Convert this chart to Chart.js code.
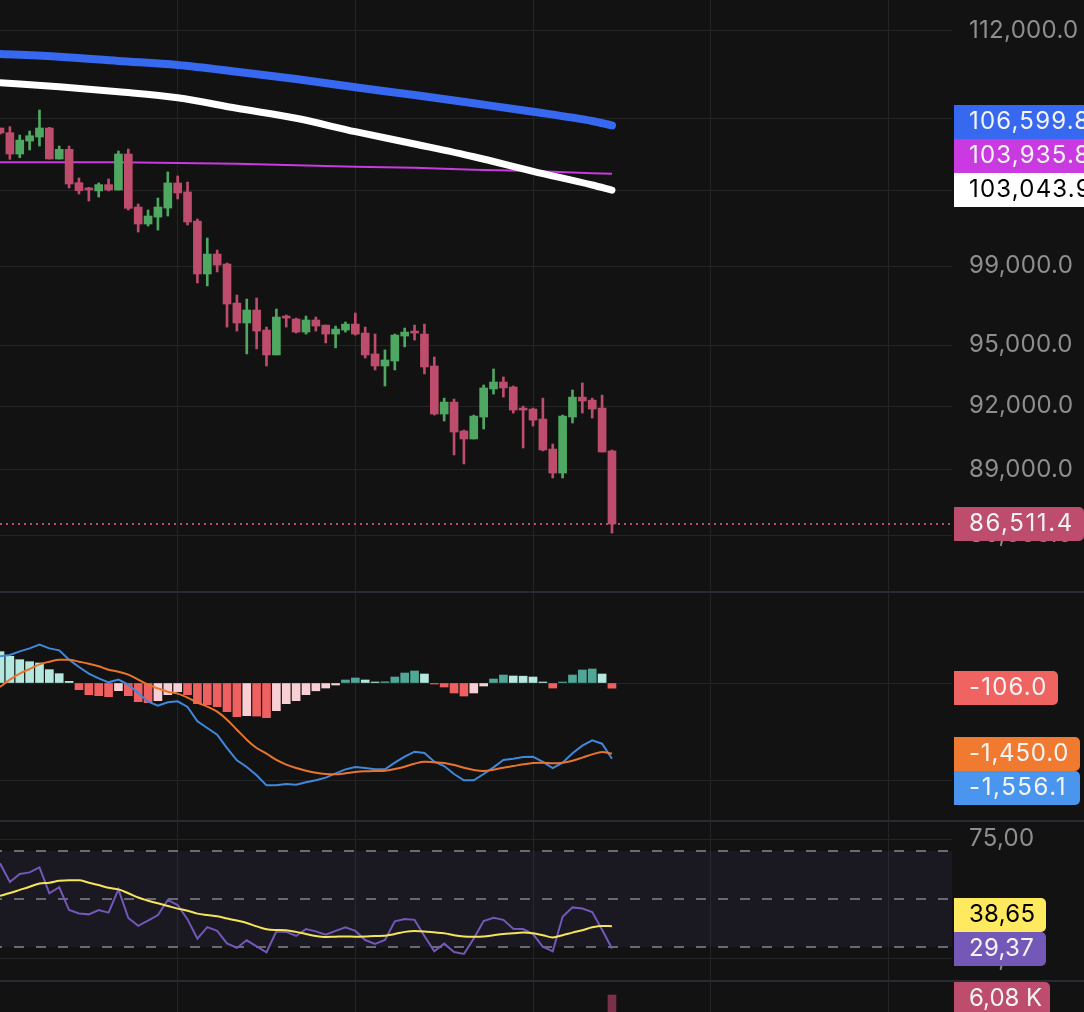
<!DOCTYPE html>
<html>
<head>
<meta charset="utf-8">
<title>Price chart</title>
<script src="https://cdn.jsdelivr.net/npm/chart.js@4"></script>
<style>
  html, body { margin: 0; padding: 0; background: #121212; overflow: hidden; }
  #wrap { position: relative; width: 1084px; height: 1012px; overflow: hidden; }
  canvas { position: absolute; left: 0; display: block; }
  .sep { position: absolute; left: 0; width: 1084px; height: 2px; background: #2a2a35; z-index: 2; }
</style>
</head>
<body>
<div id="wrap">
  <canvas id="priceChart" width="1084" height="592" style="top:0"></canvas>
  <canvas id="macdChart" width="1084" height="228" style="top:592px"></canvas>
  <canvas id="rsiChart" width="1084" height="161" style="top:820px"></canvas>
  <canvas id="volumeChart" width="1084" height="31" style="top:981px"></canvas>
  <div class="sep" style="top:591px"></div>
  <div class="sep" style="top:820px"></div>
  <div class="sep" style="top:980px"></div>
</div>
<script>
// Candles
const candleHighs = [106450,106525,106060,106285,107460,106490,105450,105450,103700,103195,103430,103645,105175,105285,102295,101975,102620,104030,103810,103480,101495,100490,99860,99185,97535,97330,97380,95910,96820,96520,96365,96465,96415,96010,95960,96165,96620,95910,95560,94770,95560,95860,96010,96060,94420,92405,92360,90875,91590,93045,93830,93435,92995,92020,91925,92405,90210,91590,92800,93145,92405,92550,89930];
const candleOpens = [106450,106190,105010,105725,105950,106450,104735,105270,103445,103160,103000,103340,103050,105010,102135,101230,101600,102080,103430,102945,101385,98615,99650,99130,97125,96115,96770,95760,94520,96465,96315,95660,96265,96010,95560,95760,96060,95610,94570,93975,94220,95460,95710,95560,93975,91640,92215,90830,90450,91495,92850,93190,92945,91925,91880,91400,89975,88850,91495,92455,92310,91925,89885];
const candleCloses = [106170,105010,105780,106020,106450,104735,105270,103375,103010,103050,103340,103050,105010,102065,101230,101655,102135,103430,102890,101335,98615,99650,99080,97075,96115,96770,95710,94520,96415,96365,95660,96265,95960,95560,95810,96060,95560,94520,93975,94270,95510,95660,95610,93925,91640,92215,90780,90450,91540,92900,93190,92900,91830,91830,91350,89930,88850,91540,92455,92265,91880,89835,86511.4];
const candleLows = [106110,104720,104810,105230,105450,104735,104735,103160,102835,102455,102670,103000,103050,101975,100805,101125,100910,101655,102565,101175,98150,98000,98720,95910,95710,94570,94820,93975,94520,95910,95610,95560,95710,95115,94870,95660,95510,94370,93780,92995,93780,94920,95260,93585,91590,91305,89695,89275,90450,90925,92600,92455,91685,90025,91065,89885,88620,88620,91210,91685,91445,89835,86100];

// Moving averages, read at these candle positions
const averageIndexes = [0,6,12,18,24,30,36,42,48,54,60,62];
const blueAverage = [110660,110500,110254,110023,109637,109219,108745,108307,107838,107364,106841,106599.8];
const whiteAverage = [109007,108779,108495,108154,107556,106994,106245,105563,104862,104065,103321,103043.9];
const magentaAverage = [104555,104555,104555,104517,104479,104392,104316,104260,104151,104080,103955,103935.8];

// MACD
const macdHistogram = [644,548,479,438,411,274,192,34,-137,-240,-260,-281,-158,-260,-383,-404,-363,-240,-178,-240,-425,-445,-486,-589,-692,-671,-680,-712,-568,-425,-363,-240,-160,-103,-41,62,103,62,20,25,123,205,247,185,-21,-82,-205,-267,-205,-62,82,164,144,140,123,21,-103,21,164,267,288,185,-106];
const macdLine = [548,575,651,712,788,712,671,480,329,192,96,14,69,-34,-206,-384,-466,-397,-377,-493,-788,-925,-1062,-1336,-1589,-1726,-1897,-2103,-2103,-2076,-2089,-2041,-2000,-1945,-1856,-1774,-1726,-1747,-1774,-1774,-1637,-1514,-1411,-1439,-1617,-1706,-1870,-2000,-2000,-1870,-1733,-1582,-1555,-1521,-1514,-1623,-1747,-1637,-1445,-1288,-1178,-1247,-1556.1];
const macdSignal = [-82,69,192,288,384,438,480,480,438,397,343,274,233,171,69,-34,-110,-178,-219,-301,-404,-486,-589,-754,-959,-1165,-1336,-1452,-1582,-1678,-1747,-1802,-1846,-1870,-1877,-1856,-1829,-1815,-1808,-1802,-1767,-1719,-1658,-1617,-1630,-1644,-1685,-1740,-1788,-1808,-1781,-1740,-1706,-1671,-1644,-1637,-1651,-1637,-1596,-1534,-1466,-1418,-1450];

// RSI
const rsiLine = [64.9,57.1,60.4,61.1,63.2,52.4,54.9,45.4,44,43.6,45.4,44.3,54,42.1,38.8,41,43.3,49.6,47.5,41.5,33.5,38.3,36.7,31.5,29.6,32.8,30.3,27.8,36.5,36.3,34.6,37.5,36.5,35.1,36.7,38.2,36.7,32.9,31.3,32.9,40.7,41.7,41.3,34.6,28.2,31.4,27.9,27.1,33.5,40.8,42.2,41.3,37.6,37.5,35.4,30.1,28.2,42.6,46.5,46,44.6,37.2,29.37];
const rsiAverage = [51.3,52.5,53.8,55.1,56.5,56.8,57.6,57.8,57.8,56.8,55.8,54.7,54,52.4,50.6,49.3,48.2,47.1,46,45.1,43.9,43.3,42.8,41.9,41,40,38.6,37.4,37.1,37,36.3,35.4,34.6,34.2,34.3,34.4,34.3,34.4,34.6,34.7,35.4,36.3,36.7,36.5,36.1,35.7,34.9,34.4,34.3,34.4,34.9,35.4,35.7,36,35.7,34.9,34,34.9,36,37,38.2,38.8,38.65];
const rsiBands = [70, 50, 30];

// Volume: only the last bar rises into the visible part of the pane
const volumeIndexes = [62];
const volumeValues = [6080];

// Axis ticks. Labels left blank sit fully behind a value tag in the picture.
const priceTicks = [112000, 107000, 103000, 99000, 95000, 92000, 89000, 86000];
const priceTickLabels = ['112,000.0', '', '', '99,000.0', '95,000.0', '92,000.0', '89,000.0', '86,000.0'];
const macdTicks = [0, -2000];
const rsiTicks = [75, 25];
const rsiTickLabels = ['75,00', '25,00'];
const timeTicks = [18, 36, 54, 72, 90];

const lastIndex = candleCloses.length - 1;
const lastPrice = candleCloses[lastIndex];

// Colours
const gridColor = '#242426';
const tickColor = '#8e8e90';
const upColor = '#4ea862';
const downColor = '#bd4c6d';

Chart.defaults.font.family = 'Inter';
Chart.defaults.animation = false;

// The axis text in the picture is spaced a little wider than the font's default
Chart.register({
  id: 'wideText',
  beforeDraw(chart) { chart.ctx.letterSpacing = '0.3px'; }
});

// Category positions run on a plain linear axis: 0 is the left edge of the picture
const xMax = 96.45;
function timeScale() {
  return {
    type: 'linear',
    offset: false,
    min: 0,
    max: xMax,
    afterBuildTicks: scale => { scale.ticks = timeTicks.map(value => ({ value })); },
    ticks: { display: false },
    grid: { color: gridColor, lineWidth: 1, drawTicks: false, offset: false },
    border: { display: false }
  };
}

// Right-hand value axis with a fixed width so each plot ends at x=952
function valueScale(type, min, max, ticks, labels) {
  return {
    type,
    position: 'right',
    min,
    max,
    afterBuildTicks: scale => { scale.ticks = ticks.map(value => ({ value })); },
    afterFit: scale => {
      scale.width = 132;
      scale.paddingTop = 0;
      scale.paddingBottom = 0;
    },
    ticks: {
      autoSkip: false,
      padding: 17,
      labelOffset: -0.5,
      color: tickColor,
      font: { size: 24 },
      callback: (value, i) => labels[i]
    },
    grid: { color: gridColor, lineWidth: 1, drawTicks: false },
    border: { display: false }
  };
}

// Coloured value tags on the right of a pane
function tagPlugin(tags) {
  return {
    id: 'valueTags',
    afterDraw(chart) {
      const ctx = chart.ctx;
      ctx.save();
      tags.forEach(tag => {
        ctx.fillStyle = tag.color;
        ctx.beginPath();
        ctx.roundRect(954, tag.top, tag.right - 954, 34, [0, 5, 5, 0]);
        ctx.fill();
        ctx.fillStyle = tag.textColor || '#f4f4f4';
        ctx.font = '24px Inter';
        ctx.letterSpacing = tag.spacing + 'px';
        ctx.textBaseline = 'middle';
        ctx.textAlign = 'left';
        ctx.fillText(tag.text, 969, tag.top + 17);
      });
      ctx.restore();
    }
  };
}

function sparsePoints(indexes, values) {
  return indexes.map((x, i) => ({ x, y: values[i] }));
}

function seriesPoints(values) {
  return values.map((y, x) => ({ x, y }));
}

function flatLine(value) {
  return [{ x: 0, y: value }, { x: xMax, y: value }];
}

const baseOptions = {
  responsive: false,
  maintainAspectRatio: false,
  layout: { padding: 0 },
  plugins: { legend: { display: false }, tooltip: { enabled: false } }
};

// Price pane
new Chart(document.getElementById('priceChart'), {
  type: 'bar',
  data: {
    datasets: [
      {
        type: 'line',
        data: sparsePoints(averageIndexes, magentaAverage),
        borderColor: '#c93ae0',
        borderWidth: 2,
        pointRadius: 0,
        order: 6
      },
      {
        type: 'line',
        data: sparsePoints(averageIndexes, whiteAverage),
        borderColor: '#ffffff',
        borderWidth: 7,
        borderCapStyle: 'round',
        cubicInterpolationMode: 'monotone',
        pointRadius: 0,
        order: 1
      },
      {
        type: 'line',
        data: sparsePoints(averageIndexes, blueAverage),
        borderColor: '#3768f0',
        borderWidth: 8,
        borderCapStyle: 'round',
        cubicInterpolationMode: 'monotone',
        pointRadius: 0,
        order: 1
      },
      {
        type: 'line',
        data: flatLine(lastPrice),
        borderColor: downColor,
        borderWidth: 2,
        borderDash: [2, 4],
        pointRadius: 0,
        order: 5
      },
      {
        // Wicks
        data: candleHighs.map((high, i) => ({ x: i, y: [candleLows[i], high] })),
        backgroundColor: candleCloses.map((close, i) => close >= candleOpens[i] ? upColor : downColor),
        barThickness: 2,
        grouped: false,
        order: 4
      },
      {
        // Bodies
        data: candleOpens.map((open, i) => ({ x: i, y: [open, candleCloses[i]] })),
        backgroundColor: candleCloses.map((close, i) => close >= candleOpens[i] ? upColor : downColor),
        barThickness: 8,
        grouped: false,
        order: 3
      }
    ]
  },
  options: {
    ...baseOptions,
    scales: {
      x: timeScale(),
      y: valueScale('logarithmic', 83483, 113833, priceTicks, priceTickLabels)
    }
  },
  plugins: [tagPlugin([
    { top: 105, right: 1090, color: '#3768f0', text: '106,599.8', spacing: 1.2 },
    { top: 139, right: 1090, color: '#c93ae0', text: '103,935.8', spacing: 1.2 },
    { top: 173, right: 1090, color: '#ffffff', textColor: '#000000', text: '103,043.9', spacing: 1.2 },
    { top: 507, right: 1084, color: downColor, text: '86,511.4', spacing: 1.6 }
  ])]
});

// TradingView style histogram colours: dark while growing, pale while shrinking
function histogramColor(value, i) {
  const previous = i > 0 ? macdHistogram[i - 1] : value + 1;
  if (value >= 0) return value > previous ? '#4fa897' : '#b4e8de';
  return value < previous ? '#ef6060' : '#f8cfd4';
}

// MACD pane
new Chart(document.getElementById('macdChart'), {
  type: 'bar',
  data: {
    datasets: [
      {
        type: 'line',
        data: seriesPoints(macdSignal),
        borderColor: '#e8742e',
        borderWidth: 2,
        cubicInterpolationMode: 'monotone',
        pointRadius: 0,
        order: 1
      },
      {
        type: 'line',
        data: seriesPoints(macdLine),
        borderColor: '#4088dc',
        borderWidth: 2,
        pointRadius: 0,
        order: 2
      },
      {
        data: seriesPoints(macdHistogram),
        backgroundColor: macdHistogram.map(histogramColor),
        barThickness: 8,
        order: 3
      }
    ]
  },
  options: {
    ...baseOptions,
    scales: {
      x: timeScale(),
      y: valueScale('linear', -2815, 1870, macdTicks, ['', ''])
    }
  },
  plugins: [tagPlugin([
    { top: 79, right: 1058, color: '#ef6360', text: '-106.0', spacing: 1.2 },
    { top: 145, right: 1080, color: '#ef7a30', text: '-1,450.0', spacing: 0.8 },
    { top: 179, right: 1080, color: '#4a96ee', text: '-1,556.1', spacing: 1.6 }
  ])]
});

// RSI pane
const bandDatasets = rsiBands.map((level, i) => ({
  type: 'line',
  data: flatLine(level),
  borderColor: '#88888c',
  borderWidth: 1.5,
  borderDash: [10, 12],
  borderDashOffset: 8,
  pointRadius: 0,
  backgroundColor: 'rgba(115, 88, 184, 0.09)',
  fill: i === 0 ? { value: rsiBands[rsiBands.length - 1] } : false,
  order: 5
}));

new Chart(document.getElementById('rsiChart'), {
  type: 'line',
  data: {
    datasets: [
      ...bandDatasets,
      {
        data: seriesPoints(rsiLine),
        borderColor: '#7358b8',
        borderWidth: 2,
        pointRadius: 0,
        order: 2
      },
      {
        data: seriesPoints(rsiAverage),
        borderColor: '#f5e45c',
        borderWidth: 2,
        cubicInterpolationMode: 'monotone',
        pointRadius: 0,
        order: 1
      }
    ]
  },
  options: {
    ...baseOptions,
    scales: {
      x: timeScale(),
      y: valueScale('linear', 15.83, 82.92, rsiTicks, rsiTickLabels)
    }
  },
  plugins: [tagPlugin([
    { top: 78, right: 1046, color: '#ffe95f', textColor: '#000000', text: '38,65', spacing: 0.3 },
    { top: 112, right: 1046, color: '#7358b8', text: '29,37', spacing: 0.3 }
  ])]
});

// Volume pane
new Chart(document.getElementById('volumeChart'), {
  type: 'bar',
  data: {
    datasets: [{
      data: sparsePoints(volumeIndexes, volumeValues),
      backgroundColor: '#7a3048',
      barThickness: 8
    }]
  },
  options: {
    ...baseOptions,
    scales: {
      x: timeScale(),
      y: valueScale('linear', 4720, 7200, [], [])
    }
  },
  plugins: [tagPlugin([
    { top: 1, right: 1050, color: downColor, text: '6,08 K', spacing: 0 }
  ])]
});
</script>
</body>
</html>
